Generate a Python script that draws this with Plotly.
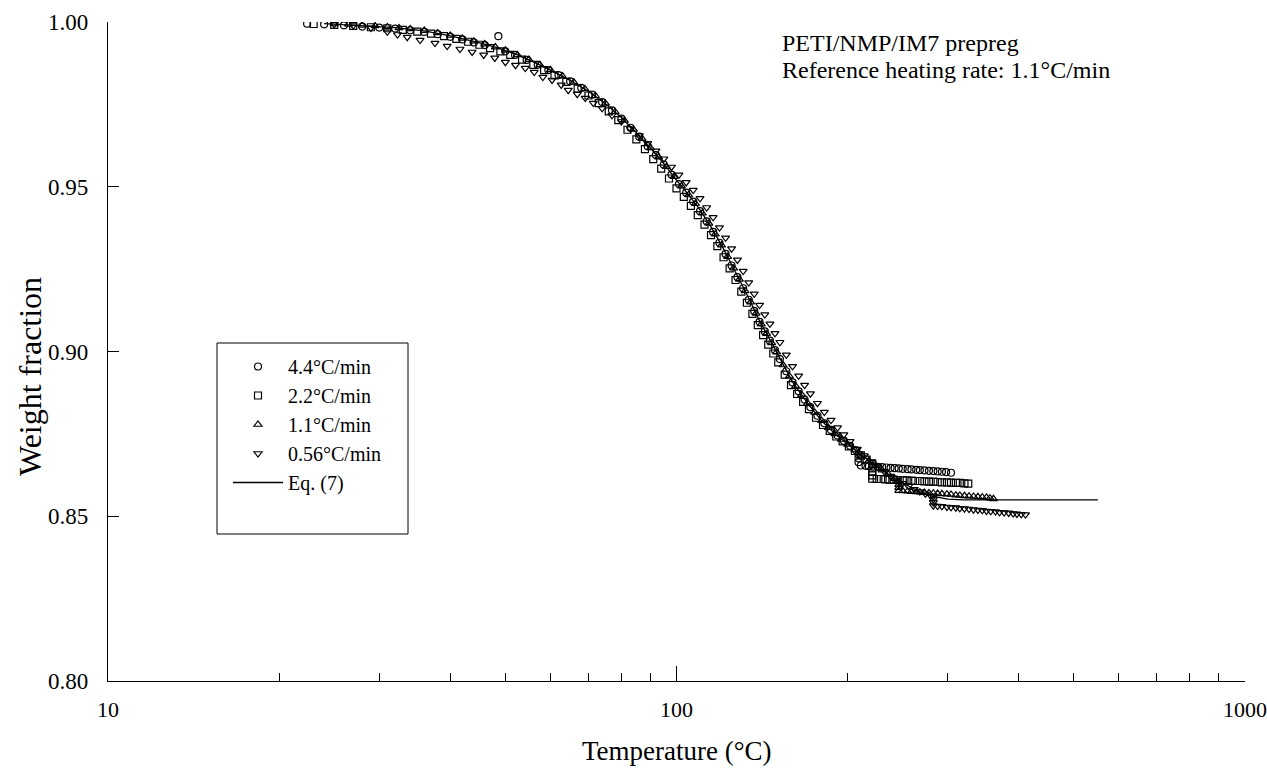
import plotly.graph_objects as go

# ---------------- data ----------------
# Eq. (7) model curve
T_eq7 = [24, 28, 32, 36, 40, 44, 48, 52, 56, 60, 65, 70, 75, 80, 85, 90, 95, 100,
         105, 110, 115, 120, 125, 130, 135, 140, 145, 150, 155, 160, 170, 180, 190,
         200, 210, 220, 230, 240, 250, 260, 270, 280, 290, 300, 320, 400, 551]
w_eq7 = [0.9995, 0.9989, 0.9983, 0.9973, 0.9958, 0.9941, 0.9924, 0.9903, 0.9879, 0.9854,
         0.9823, 0.9790, 0.9752, 0.9710, 0.9664, 0.9617, 0.9570, 0.9520,
         0.9476, 0.9430, 0.9378, 0.9323, 0.9265, 0.9207, 0.9150, 0.9093, 0.9045, 0.8998,
         0.8950, 0.8908, 0.8843, 0.8790, 0.8750, 0.8718, 0.8690, 0.8664, 0.8640, 0.8618,
         0.8600, 0.8585, 0.8572, 0.8562, 0.8556, 0.8552, 0.8550, 0.8550, 0.8550]

# 4.4 C/min
T_44 = [22.4, 24, 26, 28, 30, 32, 34, 36, 38, 40, 42, 44, 46, 48.6, 50, 52, 54.5, 57, 59.5, 62,
        65, 68, 71, 74, 77, 80, 83, 86, 89, 92, 95, 98, 101, 104, 107, 110, 113, 116, 119, 122,
        125, 128, 131, 134, 137, 140, 143, 146, 149, 152, 156, 160, 164, 168, 172, 177, 182, 187,
        192, 197, 202, 207, 209, 209, 209,
        211, 215, 218, 222, 226, 230, 234, 238, 242, 246, 250, 255, 259, 264, 268, 273, 278, 283,
        288, 293, 298, 304]
w_44 = [0.9995, 0.9993, 0.9990, 0.9986, 0.9983, 0.9980, 0.9975, 0.9970, 0.9963, 0.9955,
        0.9947, 0.9938, 0.9930, 0.9957, 0.9911, 0.9900, 0.9885, 0.9870, 0.9854, 0.9839,
        0.9820, 0.9800, 0.9780, 0.9757, 0.9732, 0.9707, 0.9679, 0.9652, 0.9623, 0.9596,
        0.9567, 0.9537, 0.9508, 0.9482, 0.9455, 0.9426, 0.9395, 0.9363, 0.9330, 0.9296,
        0.9261, 0.9226, 0.9192, 0.9157, 0.9123, 0.9090, 0.9061, 0.9033, 0.9004, 0.8977,
        0.8940, 0.8906, 0.8879, 0.8854, 0.8831, 0.8805, 0.8782, 0.8762, 0.8745, 0.8729,
        0.8714, 0.8700, 0.8688, 0.8676, 0.8664,
        0.8654, 0.8653, 0.8652, 0.8651, 0.8650, 0.8649, 0.8648, 0.8647, 0.8646, 0.8645,
        0.8644, 0.8643, 0.8642, 0.8641, 0.8640, 0.8639, 0.8638, 0.8637, 0.8636, 0.8635,
        0.8634, 0.8632]

# 2.2 C/min
T_22 = [23, 25, 27, 29, 31, 33, 35, 37, 39, 41, 43, 45, 47, 49, 51, 53.5, 56, 58.5, 61, 64,
        67, 70, 73, 76, 79, 82, 85, 88, 91, 94, 97, 100, 103, 106, 109, 112, 115, 118, 121, 124,
        127, 130, 133, 136, 139, 142, 145, 148, 151, 155, 159, 163, 167, 171, 176, 181, 186, 191,
        196, 201, 206, 211, 216, 221, 221, 221, 221,
        221, 225, 229, 233, 237, 241, 245, 250, 254, 259, 263, 268, 273, 278, 283, 288, 293, 299,
        304, 310, 315, 321, 326]
w_22 = [0.9994, 0.9991, 0.9988, 0.9984, 0.9981, 0.9976, 0.9971, 0.9965, 0.9957, 0.9949,
        0.9940, 0.9931, 0.9921, 0.9911, 0.9900, 0.9886, 0.9870, 0.9854, 0.9838, 0.9818,
        0.9798, 0.9777, 0.9754, 0.9729, 0.9702, 0.9673, 0.9644, 0.9614, 0.9584, 0.9555,
        0.9525, 0.9495, 0.9469, 0.9442, 0.9414, 0.9385, 0.9353, 0.9320, 0.9286, 0.9252,
        0.9217, 0.9182, 0.9148, 0.9114, 0.9080, 0.9050, 0.9021, 0.8994, 0.8967, 0.8930,
        0.8898, 0.8871, 0.8847, 0.8825, 0.8799, 0.8777, 0.8759, 0.8742, 0.8727, 0.8712,
        0.8698, 0.8685, 0.8672, 0.8660, 0.8648, 0.8636, 0.8624,
        0.8614, 0.8613, 0.8613, 0.8612, 0.8611, 0.8611, 0.8610, 0.8609, 0.8609, 0.8608,
        0.8607, 0.8607, 0.8606, 0.8605, 0.8605, 0.8604, 0.8603, 0.8603, 0.8602, 0.8601,
        0.8601, 0.8600, 0.8599]

# 1.1 C/min
T_11 = [25, 26.5, 28, 29.5, 31, 32.5, 34, 36, 38, 40, 42, 44, 46, 48, 50, 52.5, 55, 57.5, 60,
        63, 66, 69, 72, 75, 78, 81, 84, 87, 90, 93, 96, 99, 102, 105, 108, 111, 114, 117, 120,
        123, 126, 129, 132, 135, 138, 141, 144, 147, 150, 154, 158, 162, 166, 170, 175, 180, 185,
        190, 195, 200, 206, 212, 218, 224, 230, 236, 242, 246, 246, 246,
        246, 250, 255, 259, 264, 268, 273, 278, 283, 288, 293, 299, 304, 310, 315, 321, 327, 333,
        339, 345, 351, 356, 361]
w_11 = [0.9994, 0.9993, 0.9990, 0.9988, 0.9985, 0.9982, 0.9979, 0.9974, 0.9967,
        0.9959, 0.9950, 0.9942, 0.9933, 0.9924, 0.9914, 0.9900, 0.9886, 0.9870, 0.9855,
        0.9836, 0.9817, 0.9797, 0.9776, 0.9753, 0.9727, 0.9701, 0.9674, 0.9646, 0.9618,
        0.9590, 0.9561, 0.9531, 0.9502, 0.9475, 0.9449, 0.9420, 0.9389, 0.9356, 0.9323,
        0.9288, 0.9253, 0.9219, 0.9184, 0.9150, 0.9116, 0.9083, 0.9054, 0.9026, 0.8998,
        0.8959, 0.8925, 0.8895, 0.8869, 0.8843, 0.8815, 0.8790, 0.8769, 0.8750, 0.8733,
        0.8718, 0.8701, 0.8685, 0.8669, 0.8654, 0.8640, 0.8627, 0.8614, 0.8605, 0.8596, 0.8587,
        0.8578, 0.8577, 0.8576, 0.8575, 0.8574, 0.8573, 0.8572, 0.8571, 0.8570, 0.8569,
        0.8568, 0.8567, 0.8566, 0.8564, 0.8563, 0.8562, 0.8561, 0.8560, 0.8559, 0.8558,
        0.8557, 0.8555, 0.8553]

# 0.56 C/min
T_056 = [25, 27, 29, 31, 32.3, 33.6, 35.4, 37.6, 39.5, 41.6, 43.7, 45.8, 47.9, 50.0, 52.1,
         54.2, 56.2, 58.2, 60.4, 62.7, 64.5, 66.9, 69.1, 71.4, 74, 77, 80, 83, 86, 89, 92, 95,
         98, 101, 104, 107, 110, 113, 116, 119, 122, 125, 128, 131, 134, 137, 140, 143, 146,
         149, 152, 156, 160, 164, 168, 172, 177, 182, 187, 192, 197, 202, 208, 214, 220, 226,
         232, 238, 244, 250, 256, 262, 268, 274, 280, 283, 283, 283,
         283, 288, 293, 299, 304, 310, 315, 321, 327, 333, 339, 345, 351, 357, 364, 370, 377,
         384, 391, 397, 404, 411]
w_056 = [0.9993, 0.9989, 0.9982, 0.9970, 0.9962,
         0.9954, 0.9945, 0.9936, 0.9927, 0.9918, 0.9909, 0.9900, 0.9891, 0.9878, 0.9869,
         0.9860, 0.9848, 0.9833, 0.9824, 0.9809, 0.9793, 0.9781, 0.9769, 0.9754,
         0.9738, 0.9717, 0.9698, 0.9676, 0.9655, 0.9632, 0.9609, 0.9585, 0.9560, 0.9536,
         0.9513, 0.9490, 0.9465, 0.9437, 0.9407, 0.9376, 0.9345, 0.9312, 0.9278, 0.9244,
         0.9209, 0.9175, 0.9141, 0.9112, 0.9084, 0.9055, 0.9028, 0.8990, 0.8955, 0.8926,
         0.8898, 0.8872, 0.8843, 0.8816, 0.8792, 0.8769, 0.8748, 0.8727, 0.8704, 0.8684,
         0.8666, 0.8651, 0.8636, 0.8622, 0.8610, 0.8600, 0.8591, 0.8582, 0.8575, 0.8568,
         0.8562, 0.8560, 0.8551, 0.8542,
         0.8532, 0.8531, 0.8530, 0.8528, 0.8527, 0.8526, 0.8524, 0.8523, 0.8522, 0.8520,
         0.8519, 0.8518, 0.8516, 0.8515, 0.8514, 0.8512, 0.8511, 0.8510, 0.8508, 0.8507,
         0.8506, 0.8505]

x_ticks = [10, 100, 1000]
x_ticktext = ["10", "100", "1000"]
y_ticks = [0.80, 0.85, 0.90, 0.95, 1.00]
y_ticktext = ["0.80", "0.85", "0.90", "0.95", "1.00"]

FONT = "Liberation Serif"

series = [
    ("4.4°C/min", T_44, w_44, "circle-open", 7),
    ("2.2°C/min", T_22, w_22, "square-open", 7),
    ("1.1°C/min", T_11, w_11, "triangle-up-open", 7),
    ("0.56°C/min", T_056, w_056, "triangle-down-open", 7),
]

fig = go.Figure()
for name, xs, ys, sym, sz in series:
    fig.add_trace(go.Scatter(
        x=xs, y=ys, mode="markers", name=name,
        marker=dict(symbol=sym, size=sz, color="black", line=dict(width=1.2, color="black")),
    ))
fig.add_trace(go.Scatter(
    x=T_eq7, y=w_eq7, mode="lines", name="Eq. (7)",
    line=dict(color="black", width=1.3),
))

# plot area: x 108..1245 px, y 22..681 px
W, H = 1267, 769
L, R, TOP, B = 108, 22, 22, 88
pw, ph = W - L - R, H - TOP - B

def px(x):
    return (x - L) / pw

def py(y):
    return (H - B - y) / ph

fig.update_layout(
    width=W, height=H, autosize=False,
    margin=dict(l=L, r=R, t=TOP, b=B, pad=0, autoexpand=False),
    paper_bgcolor="white", plot_bgcolor="white",
    font=dict(family=FONT, color="black", size=21),
    showlegend=True,
    legend=dict(
        x=px(228), y=py(347), xanchor="left", yanchor="top",
        bgcolor="rgba(0,0,0,0)", borderwidth=0,
        font=dict(family=FONT, size=20, color="black"),
        itemwidth=50, tracegroupgap=0,
    ),
    xaxis=dict(
        type="log", range=[1, 3], automargin=False,
        showline=True, linecolor="black", linewidth=1.3,
        showgrid=False, zeroline=False,
        ticks="inside", ticklen=15, tickwidth=1, tickcolor="black",
        tickvals=x_ticks, ticktext=x_ticktext,
        tickfont=dict(family=FONT, size=22, color="black"),
        ticklabelstandoff=8,
        minor=dict(ticks="inside", ticklen=8, tickwidth=1, tickcolor="black",
                   tickvals=[k * 10 ** d for d in (1, 2) for k in range(2, 10)],
                   showgrid=False),
    ),
    yaxis=dict(
        range=[0.8, 1.0], automargin=False,
        showline=True, linecolor="black", linewidth=1.3,
        showgrid=False, zeroline=False,
        ticks="inside", ticklen=11, tickwidth=1, tickcolor="black",
        tickvals=y_ticks, ticktext=y_ticktext,
        tickfont=dict(family=FONT, size=23, color="black"),
        ticklabelstandoff=14,
    ),
    shapes=[dict(type="rect", xref="paper", yref="paper",
                 x0=px(217), x1=px(408), y0=py(534), y1=py(343),
                 line=dict(color="black", width=1), fillcolor="rgba(0,0,0,0)")],
    annotations=[
        dict(text="PETI/NMP/IM7 prepreg", xref="paper", yref="paper",
             x=px(780), y=py(43), xanchor="left", yanchor="middle", showarrow=False,
             font=dict(family=FONT, size=24, color="black")),
        dict(text="Reference heating rate: 1.1°C/min", xref="paper", yref="paper",
             x=px(780), y=py(70), xanchor="left", yanchor="middle", showarrow=False,
             font=dict(family=FONT, size=24, color="black")),
        dict(text="Temperature (°C)", xref="paper", yref="paper",
             x=px(677), y=py(751), xanchor="center", yanchor="middle", showarrow=False,
             font=dict(family=FONT, size=27, color="black")),
        dict(text="Weight fraction", xref="paper", yref="paper", textangle=-90,
             x=px(30), y=py(377), xanchor="center", yanchor="middle", showarrow=False,
             font=dict(family=FONT, size=32, color="black")),
    ],
)

fig.write_html("out.html")
